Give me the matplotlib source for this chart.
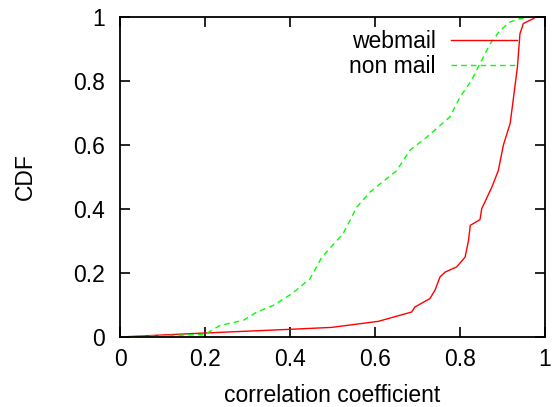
import matplotlib
matplotlib.use("Agg")
import matplotlib.pyplot as plt

plt.rcParams['font.family'] = ['Liberation Sans', 'DejaVu Sans']

# CDF of correlation coefficient
webmail_x = [0.0, 0.2, 0.4, 0.498, 0.608, 0.686, 0.694, 0.729, 0.741, 0.753,
             0.765, 0.792, 0.812, 0.82, 0.824, 0.847, 0.851, 0.875, 0.89,
             0.902, 0.918, 0.925, 0.935, 0.941, 0.949, 0.972, 0.978]
webmail_y = [0.0, 0.0125, 0.024, 0.03, 0.049, 0.078, 0.094, 0.12, 0.146, 0.188,
             0.203, 0.219, 0.25, 0.302, 0.349, 0.367, 0.401, 0.469, 0.52,
             0.6, 0.668, 0.74, 0.844, 0.948, 0.98, 0.995, 1.0]

nonmail_x = [0.0, 0.2, 0.235, 0.29, 0.322, 0.361, 0.404, 0.447, 0.475, 0.525,
             0.557, 0.588, 0.651, 0.682, 0.722, 0.776, 0.8, 0.827, 0.847,
             0.871, 0.894, 0.918, 0.941, 0.965]
nonmail_y = [0.0, 0.008, 0.036, 0.052, 0.078, 0.099, 0.135, 0.182, 0.25, 0.323,
             0.406, 0.453, 0.52, 0.584, 0.625, 0.688, 0.75, 0.802, 0.855,
             0.917, 0.958, 0.985, 0.995, 1.0]

ticks = [0, 0.2, 0.4, 0.6, 0.8, 1]
tick_labels = ['0', '0.2', '0.4', '0.6', '0.8', '1']

fig = plt.figure(figsize=(5.52, 4.07), dpi=100)
ax = fig.add_axes([0.2174, 0.172, 0.77, 0.786])

ax.plot(webmail_x, webmail_y, color='#ff0000', linewidth=1.0, label='webmail')
ax.plot(nonmail_x, nonmail_y, color='#00ff00', linewidth=1.0,
        linestyle=(0, (4, 3)), label='non mail')

ax.set_xlim(0, 1)
ax.set_ylim(0, 1)
ax.set_xticks(ticks)
ax.set_xticklabels(tick_labels)
ax.set_yticks(ticks)
ax.set_yticklabels(tick_labels)
ax.tick_params(direction='in', length=7, width=1.2, labelsize=16.5,
               top=True, right=True, pad=8)
ax.tick_params(axis='y', pad=11)
for s in ax.spines.values():
    s.set_linewidth(1.3)

ax.set_xlabel('correlation coefficient', fontsize=16.5, labelpad=9)
ax.set_ylabel('CDF', fontsize=16.5, labelpad=26)

# legend in gnuplot style: text on the left, right aligned, line sample after it
leg = ax.legend(loc='upper right', bbox_to_anchor=(0.934, 0.96), frameon=False,
                fontsize=16.5, markerfirst=False, handlelength=2.9,
                handletextpad=0.65, labelspacing=0.1, borderaxespad=0,
                borderpad=0)
for t in leg.get_texts():
    t.set_ha('right')

fig.savefig('out.png', dpi=100)
